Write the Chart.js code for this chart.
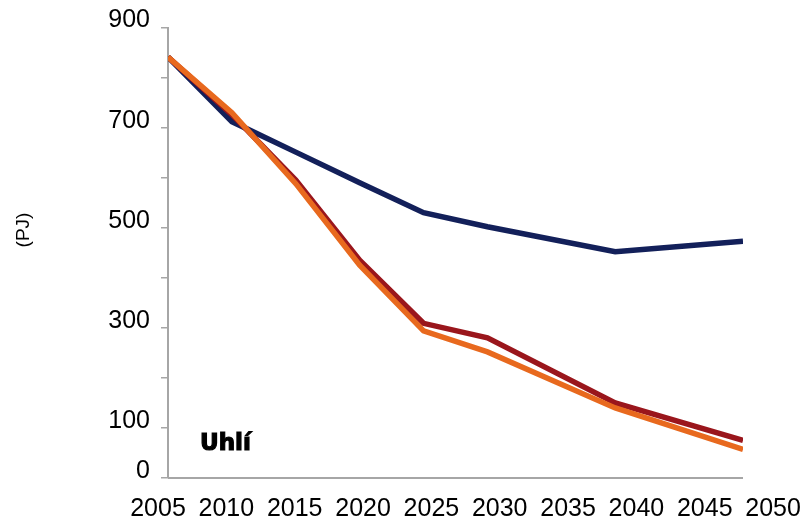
<!DOCTYPE html>
<html>
<head>
<meta charset="utf-8">
<script src="https://cdn.jsdelivr.net/npm/chart.js@4"></script>
<style>
  html, body { margin: 0; padding: 0; background: #fff; }
  #chart { display: block; }
</style>
</head>
<body>
<canvas id="chart" width="806" height="517"></canvas>
<script>
// data
const years = [2005, 2010, 2015, 2020, 2025, 2030, 2040, 2050];
const navySeries = [841, 712, 651, 590, 530, 502, 452, 473];
const redSeries = [841, 726, 595, 435, 309, 280, 150, 75];
const orangeSeries = [841, 730, 588, 425, 294, 252, 140, 57];

const xLabelYears = [2005, 2010, 2015, 2020, 2025, 2030, 2035, 2040, 2045, 2050];
const yLabelValues = [0, 100, 300, 500, 700, 900];
const unitLabel = "(PJ)";
const panelLabel = "Uhlí";

const colors = {
    navy: "#13205a",
    red: "#9a161c",
    orange: "#e8691e",
    axis: "#a6a6a6",
    text: "#000000",
};

const tickFont = { family: "Liberation Sans", size: 25, lineHeight: 1 };

const toPoints = (values) => values.map((v, i) => ({ x: years[i], y: v }));

// axis line along y = 0 and the two free texts
const decorations = {
    id: "decorations",
    beforeDatasetsDraw(chart) {
        const { ctx, scales } = chart;
        const x = scales.x;
        const y = scales.y;
        ctx.save();
        ctx.strokeStyle = colors.axis;
        ctx.lineWidth = 2;
        ctx.beginPath();
        ctx.moveTo(x.getPixelForValue(years[0]), y.getPixelForValue(0));
        ctx.lineTo(x.getPixelForValue(years[years.length - 1]), y.getPixelForValue(0));
        ctx.stroke();

        // heavy panel title
        ctx.fillStyle = colors.text;
        ctx.strokeStyle = colors.text;
        ctx.lineWidth = 1.2;
        ctx.font = "bold 23px DejaVu Sans";
        ctx.textBaseline = "alphabetic";
        ctx.fillText(panelLabel, 200, 450);
        ctx.strokeText(panelLabel, 200, 450);

        ctx.translate(24, 230);
        ctx.rotate(-Math.PI / 2);
        ctx.font = "19px Liberation Sans";
        ctx.textAlign = "center";
        ctx.textBaseline = "middle";
        ctx.fillText(unitLabel, 0, 0);
        ctx.restore();
    },
};

const line = (values, color) => ({
    data: toPoints(values),
    borderColor: color,
    backgroundColor: color,
    borderWidth: 5.5,
    pointRadius: 0,
    tension: 0,
    fill: false,
    xAxisID: "x",
    yAxisID: "y",
});

new Chart(document.getElementById("chart"), {
    type: "line",
    data: {
        // first dataset is drawn on top
        datasets: [
            line(orangeSeries, colors.orange),
            line(redSeries, colors.red),
            line(navySeries, colors.navy),
        ],
    },
    options: {
        responsive: false,
        animation: false,
        layout: { padding: { left: 0, right: 63, top: 27.5, bottom: 0 } },
        plugins: { legend: { display: false }, tooltip: { enabled: false } },
        scales: {
            x: {
                type: "linear",
                display: false,
                min: 2005,
                max: 2050,
            },
            // year labels sit on a slightly wider spacing than the data, as in the original
            xLabels: {
                type: "linear",
                position: "bottom",
                min: 2005.73,
                max: 2047.8,
                afterFit: (axis) => {
                    axis.height = 39;
                },
                grid: { display: false, drawTicks: true, tickLength: 19 },
                border: { display: false },
                afterBuildTicks: (axis) => {
                    axis.ticks = xLabelYears.map((v) => ({ value: v }));
                },
                ticks: {
                    autoSkip: false,
                    maxRotation: 0,
                    padding: 0,
                    color: colors.text,
                    font: tickFont,
                    callback: (v) => String(v),
                },
            },
            y: {
                type: "linear",
                position: "left",
                min: 0,
                max: 900,
                afterFit: (axis) => {
                    axis.width = 168;
                },
                grid: {
                    drawOnChartArea: false,
                    drawTicks: true,
                    tickLength: 7,
                    color: colors.axis,
                    lineWidth: 1.5,
                },
                border: { display: true, color: colors.axis, width: 2 },
                ticks: {
                    stepSize: 100,
                    padding: 11,
                    labelOffset: -7,
                    color: colors.text,
                    font: tickFont,
                    callback: (v) => (yLabelValues.includes(v) ? String(v) : ""),
                },
            },
        },
    },
    plugins: [decorations],
});
</script>
</body>
</html>
